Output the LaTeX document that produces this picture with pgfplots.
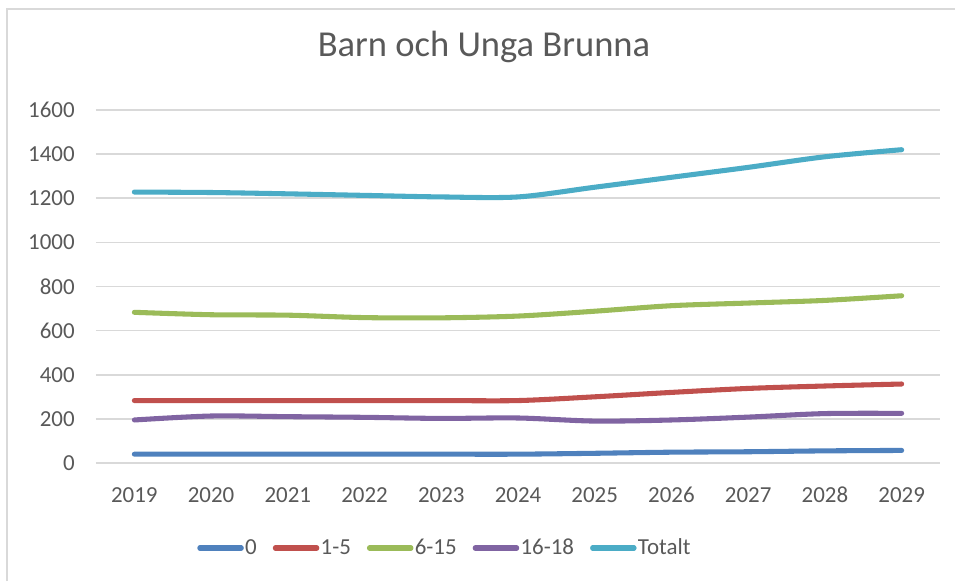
\documentclass[border=0pt]{standalone}
\usepackage{fontspec}
\setmainfont{Carlito}
\usepackage{pgfplots}
\pgfplotsset{compat=1.18}

\definecolor{cZero}{HTML}{4F81BD}
\definecolor{cOne}{HTML}{C0504D}
\definecolor{cSix}{HTML}{9BBB59}
\definecolor{cSixteen}{HTML}{8064A2}
\definecolor{cTot}{HTML}{4BACC6}
\definecolor{txt}{HTML}{595959}
\definecolor{gridc}{HTML}{D9D9D9}

\begin{document}
\begin{tikzpicture}
% canvas = 955x581 px at 0.75pt/px, axis box lower-left at (0,0)
\useasboundingbox (-72pt,-88.5pt) rectangle (644.25pt,347.25pt);
\draw[gridc, line width=1.3pt] (-66.75pt,-88.5pt) -- (-66.75pt,340.5pt) -- (644.25pt,340.5pt);

\begin{axis}[
  at={(0,0)}, anchor=south west,
  scale only axis, width=633pt, height=264.75pt,
  xmin=-0.5, xmax=10.5, ymin=0, ymax=1600,
  xtick={0,...,10},
  xticklabels={2019,2020,2021,2022,2023,2024,2025,2026,2027,2028,2029},
  ytick={0,200,...,1600},
  ymajorgrids, grid style={gridc, line width=1.3pt},
  axis line style={draw=none},
  major tick length=0pt,
  /pgf/number format/assume math mode=true,
  /pgf/number format/1000 sep={},
  tick label style={font=\fontsize{17.2}{20}\selectfont, text=txt},
  yticklabel style={anchor=east, inner sep=0pt, xshift=-15.75pt},
  xticklabel style={anchor=base, inner sep=0pt, yshift=-29.25pt},
  every axis plot/.append style={line width=3.8pt, line cap=round, line join=round, smooth, tension=0.5},
  legend columns=5,
  legend style={at={(axis description cs:0.413,-0.2408)}, anchor=center,
    draw=none, fill=none, font=\fontsize{17.2}{20}\selectfont, text=txt,
    /tikz/every even column/.append style={column sep=11pt},
    nodes={inner sep=1pt}},
  legend image code/.code={\draw[#1, line width=3.8pt, line cap=round] (1.9pt,0pt) -- (33pt,0pt);},
]
\addplot[cZero] coordinates {(0,40)(1,40)(2,40)(3,40)(4,40)(5,40)(6,44)(7,49)(8,51)(9,55)(10,57)};
\addlegendentry{0}
\addplot[cOne] coordinates {(0,283)(1,283)(2,283)(3,283)(4,283)(5,283)(6,300)(7,320)(8,338)(9,349)(10,358)};
\addlegendentry{1-5}
\addplot[cSix] coordinates {(0,683)(1,672)(2,670)(3,659)(4,658)(5,666)(6,688)(7,713)(8,725)(9,737)(10,758)};
\addlegendentry{6-15}
\addplot[cSixteen] coordinates {(0,195)(1,213)(2,210)(3,207)(4,202)(5,204)(6,190)(7,195)(8,208)(9,224)(10,225)};
\addlegendentry{16-18}
\addplot[cTot] coordinates {(0,1228)(1,1226)(2,1220)(3,1213)(4,1206)(5,1206)(6,1250)(7,1295)(8,1340)(9,1388)(10,1420)};
\addlegendentry{Totalt}
\end{axis}

\node[anchor=base, text=txt, font=\fontsize{27.4}{32}\selectfont, inner sep=0pt] at (291pt,304.5pt) {Barn och Unga Brunna};
\end{tikzpicture}
\end{document}
